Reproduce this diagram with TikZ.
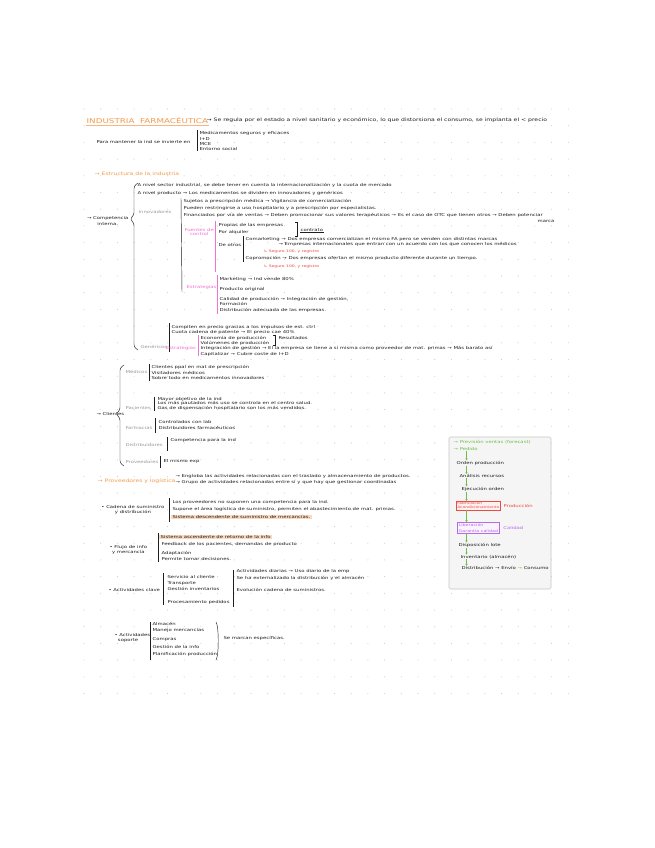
\documentclass[tikz,border=0pt]{standalone}
\usepackage{fontspec}
\setmainfont{DejaVu Sans}
\newfontfamily\hand[FakeStretch=1.33]{DejaVu Sans}
\usetikzlibrary{arrows.meta, positioning}

\definecolor{ink}{HTML}{1E1E1E}
\definecolor{titorange}{HTML}{F2994A}
\definecolor{hlpeach}{HTML}{FCD8BC}
\definecolor{pinkmark}{HTML}{F272CF}
\definecolor{graylbl}{HTML}{9A9A9A}
\definecolor{redmark}{HTML}{EC4A45}
\definecolor{purplemark}{HTML}{B86BE6}
\definecolor{greenmark}{HTML}{6DBE45}
\definecolor{dotgray}{HTML}{CDCDCD}

\begin{document}
\begin{tikzpicture}[
    x=1pt, y=-1pt,
    font=\hand\fontsize{4}{4.8}\selectfont,
    txt/.style={anchor=west, inner sep=0.4pt, text=ink},
    big/.style={txt, font=\hand\fontsize{4.6}{5.4}\selectfont},
    title/.style={anchor=west, inner sep=0.4pt, text=titorange,
      font=\hand\fontsize{6.6}{7}\selectfont},
    head/.style={txt, text=titorange, font=\hand\fontsize{4.6}{5.4}\selectfont},
    lbl/.style={txt, text=graylbl},
    pinklbl/.style={txt, text=pinkmark, align=center},
    redtxt/.style={txt, text=redmark, font=\hand\fontsize{3.4}{4}\selectfont},
    hl/.style={txt, fill=hlpeach, inner xsep=1.5pt},
    brk/.style={draw=ink, line width=0.45pt},
    pinkbrk/.style={draw=pinkmark, line width=0.6pt},
    flowframe/.style={draw=black!22, fill=black!4, rounded corners=1.5pt,
      line width=0.6pt},
    redbox/.style={txt, text=redmark, draw=redmark, fill=redmark!8,
      align=left, inner sep=1pt, line width=0.5pt,
      font=\hand\fontsize{3.3}{4.2}\selectfont},
    purpbox/.style={txt, text=purplemark, draw=purplemark, fill=purplemark!8,
      align=left, inner sep=1.4pt, line width=0.5pt,
      font=\hand\fontsize{3.6}{5.5}\selectfont},
    garr/.style={-{Stealth[length=2pt, width=2.4pt]}, draw=greenmark,
      line width=0.5pt}
  ]
  \fill[white] (0,0) rectangle (655,848);
  \useasboundingbox (0,0) rectangle (655,848);

  % dotted page
  \foreach \i in {0,...,29}
    \foreach \j in {0,...,35}
      \fill[dotgray] (84+\i*16.7, 109+\j*16.7) circle (0.55);

  % title
  \node[title] (tit) at (86,120) {INDUSTRIA\ \ FARMACÉUTICA};
  \draw[titorange!70, line width=1pt] ([yshift=-1.5]tit.south west) -- ([yshift=-1.5]tit.south east);
  \node[big] (reg) at (206,120) {→ Se regula por el estado a nivel sanitario y económico, lo que distorsiona el consumo, se implanta el < precio};

  \node[txt] (inv) at (96,142) {Para mantener la ind se invierte en};
  \node[txt] (inv1) at (199,133) {Medicamentos seguros y eficaces};
  \node[txt] (inv2) at (199,139) {I+D};
  \node[txt] (inv3) at (199,144) {MCE};
  \node[txt] (inv4) at (199,149) {Entorno social};
  \draw[brk] ([xshift=-1.5]inv1.north west) -- ([xshift=-1.5]inv4.south west);

  % estructura
  \node[head] (est) at (94,174) {→ Estructura de la industria};
  \node[txt] (sect) at (137,185) {A nivel sector industrial, se debe tener en cuenta la internacionalización y la cuota de mercado};
  \node[txt] (prod) at (137,193) {A nivel producto → Los medicamentos se dividen en innovadores y genéricos};
  \node[txt, align=center, anchor=east] (comp) at (129,221) {→ Competencia\\[1pt]interna.};
  \draw[brk, rounded corners=2.5pt] (138,183) -- (134,186) -- (134,215) -- (130,219) -- (134,223) -- (134,347) -- (138,350);

  \node[lbl] (innov) at (138,212) {Innovadores};
  \node[txt] (in1) at (183,201) {Sujetos a prescripción médica → Vigilancia de comercialización};
  \node[txt] (in2) at (183,208) {Pueden restringirse a uso hospitalario y a prescripción por especialistas.};
  \node[txt] (in3) at (183,215) {Financiados por vía de ventas → Deben promocionar sus valores terapéuticos → Es el caso de OTC que tienen otros → Deben potenciar};
  \node[txt] (in3b) at (537,221) {marca};
  \draw[brk] (181,198) -- (182,292);

  \node[pinklbl] (fuen) at (184,232) {Fuentes de\\control};
  \draw[pinkbrk] (215,221) -- (215,272);
  \node[txt] (fu1) at (218,225) {Propias de las empresas};
  \node[txt] (fu2) at (218,232) {Por alquiler};
  \draw[brk] (295,222) -- (297,222) -- (297,236) -- (295,236);
  \node[txt] (contr) at (300,230) {contrato};
  \draw[brk] (contr.south west) -- (contr.south east);
  \node[txt] (otros) at (218,245) {De otros};
  \draw[brk] (243,236) -- (243,262);
  \node[txt] (ot1) at (245,239) {Comarketing → Dos empresas comercializan el mismo FA pero se venden con distintas marcas};
  \node[txt] (ot2) at (278,244) {→ Empresas internacionales que entran con un acuerdo con los que conocen los médicos};
  \node[redtxt] (otr1) at (263,252) {↳ Seguro 100, y registro};
  \node[txt] (ot3) at (245,258) {Copromoción → Dos empresas ofertan el mismo producto diferente durante un tiempo.};
  \node[redtxt] (otr2) at (263,267) {↳ Seguro 100, y registro};

  \node[pinklbl] (estr) at (186,287) {Estrategias};
  \draw[pinkbrk] (217,275) -- (217,314);
  \node[txt] (es1) at (219,279) {Marketing → Ind vende 80\%};
  \node[txt] (es2) at (219,289) {Producto original};
  \node[txt] (es3) at (219,299) {Calidad de producción → Integración de gestión,};
  \node[txt] (es4) at (219,304) {Formación};
  \node[txt] (es5) at (219,310) {Distribución adecuada de las empresas.};

  \node[lbl] (gen) at (140,347) {Genéricos};
  \draw[brk] (169,323) -- (169,352);
  \node[txt] (ge1) at (171,327) {Compiten en precio gracias a los impulsos de est. ctrl};
  \node[txt] (ge2) at (171,332) {Cuota cadena de patente → El precio cae 40\%};
  \node[pinklbl, anchor=east] (gestr) at (196.5,348) {Estrategias};
  \draw[pinkbrk] (198,335) -- (198,356);
  \node[txt] (gs1) at (200,338) {Economía de producción};
  \node[txt] (gs2) at (200,343) {Volúmenes de producción};
  \draw[brk] (273,335) -- (275,335) -- (275,345) -- (273,345);
  \node[txt] (gres) at (278,338) {Resultados};
  \node[txt] (gs3) at (200,348) {Integración de gestión → El la empresa se tiene a sí misma como proveedor de mat. primas → Más barato así};
  \node[txt] (gs4) at (200,354) {Capitalizar → Cubre coste de I+D};

  % clientes
  \node[txt] (cli) at (96,414) {→ Clientes};
  \draw[brk, rounded corners=2.5pt] (124,365) -- (120,368) -- (120,410) -- (116,414) -- (120,418) -- (120,463) -- (124,466);

  \node[lbl] (med) at (125,372) {Médicos};
  \draw[brk] (149,364) -- (149,381);
  \node[txt] (me1) at (151,367) {Clientes ppal en mat de prescripción};
  \node[txt] (me2) at (151,373) {Visitadores médicos};
  \node[txt] (me3) at (151,378) {Sobre todo en medicamentos innovadores};

  \node[lbl] (pac) at (125,408) {Pacientes};
  \draw[brk] (154,397) -- (154,411);
  \node[txt] (pa1) at (157,399) {Mayor objetivo de la ind};
  \node[txt] (pa2) at (157,403.5) {Los más pautados más uso se controla en el centro salud.};
  \node[txt] (pa3) at (157,408.5) {Gas de dispensación hospitalario son los más vendidos.};

  \node[lbl] (far) at (125,428) {Farmacias};
  \draw[brk] (155,418) -- (155,433);
  \node[txt] (fa1) at (158,422) {Controlados con lab};
  \node[txt] (fa2) at (158,428) {Distribuidores farmacéuticos};

  \node[lbl] (dis) at (125,445) {Distribuidores};
  \draw[brk] (167,437) -- (167,451);
  \node[txt] (di1) at (170,440) {Competencia para la ind};

  \node[lbl] (prv) at (125,462) {Proveedores};
  \draw[brk] (160,456) -- (160,468);
  \node[txt] (pr1) at (163,461) {El mismo exp};

  % proveedores y logistica
  \node[head] (plog) at (97,481) {→ Proveedores y logística};
  \node[txt] (pl1) at (175,476) {→ Engloba las actividades relacionadas con el traslado y almacenamiento de productos.};
  \node[txt] (pl2) at (175,482) {→ Grupo de actividades relacionadas entre sí y que hay que gestionar coordinadas};

  \node[txt, align=center, anchor=east] (cad) at (165,510) {• Cadena de suministro\\y distribución};
  \draw[brk] (169,498) -- (169,522);
  \node[txt] (ca1) at (172,502) {Los proveedores no suponen una competencia para la ind.};
  \node[txt] (ca2) at (172,509) {Supone el área logística de suministro, permiten el abastecimiento de mat. primas.};
  \node[hl] (ca3) at (171,517) {Sistema descendente de suministro de mercancías.};

  \node[txt, align=center] (flu) at (109,550) {• Flujo de info\\y mercancía};
  \draw[brk] (158,533) -- (158,562);
  \node[hl] (fl0) at (159,537) {Sistema ascendente de retorno de la info};
  \node[txt] (fl1) at (161,544) {Feedback de los pacientes, demandas de producto};
  \node[txt] (fl2) at (161,553) {Adaptación};
  \node[txt] (fl3) at (161,559) {Permite tomar decisiones.};

  \node[txt] (act) at (108,590) {• Actividades clave};
  \draw[brk] (163,573) -- (163,605);
  \node[txt] (ac1) at (167,577) {Servicio al cliente};
  \node[txt] (ac2) at (167,583) {Transporte};
  \node[txt] (ac3) at (167,589) {Gestión inventarios};
  \node[txt] (ac4) at (167,602) {Procesamiento pedidos};
  \draw[brk] (233,570) -- (233,607);
  \node[txt] (ad1) at (236,571) {Actividades diarias → Uso diario de la emp};
  \node[txt] (ad2) at (236,578) {Se ha externalizado la distribución y el almacén};
  \node[txt] (ad3) at (236,590) {Evolución cadena de suministros.};

  \node[txt, align=left] (sop) at (114,638) {• Actividades\\\ \ soporte};
  \draw[brk] (150,622) -- (150,660);
  \node[txt] (so1) at (152,624) {Almacén};
  \node[txt] (so2) at (152,630) {Manejo mercancías};
  \node[txt] (so3) at (152,639) {Compras};
  \node[txt] (so4) at (152,647) {Gestión de la info};
  \node[txt] (so5) at (152,654) {Planificación producción};
  \draw[brk] (216,622) .. controls (219,626) and (219,656) .. (216,660);
  \node[txt] (spec) at (223,638) {Se marcan específicas.};

  % flujo de produccion
  \node[flowframe, minimum width=102pt, minimum height=152pt] (frame) at (500,513) {};
  \coordinate (ax) at (466.5,0);
  \node[txt, text=greenmark] (fc1) at (453,442) {→ Previsión ventas (forecast)};
  \node[txt, text=greenmark] (fc2) at (453,449) {→ Pedido};
  \node[txt] (f1) at (456,463) {Orden producción};
  \node[txt] (f2) at (459,476) {Análisis recursos};
  \node[txt] (f3) at (461,489) {Ejecución orden};
  \node[redbox] (fab) at (456,505.5) {Fabricación\\Acondicionamiento};
  \node[txt, text=redmark, right=2.5pt of fab] (fabl) {Producción};
  \node[purpbox] (lib) at (457,528) {Liberación\\Garantía calidad};
  \node[txt, text=purplemark, right=3pt of lib] (libl) {Calidad};
  \node[txt] (f4) at (458,545) {Disposición lote};
  \node[txt] (f5) at (460,557) {Inventario (almacén)};
  \node[txt] (f6) at (461,568) {Distribución → Envío \textcolor{greenmark}{→} Consumo};

  \draw[garr] (fc2.south -| ax) -- (f1.north -| ax);
  \draw[garr] (f1.south -| ax) -- (f2.north -| ax);
  \draw[garr] (f2.south -| ax) -- (f3.north -| ax);
  \draw[garr] (f3.south -| ax) -- (fab.north -| ax);
  \draw[garr] (fab.south -| ax) -- (lib.north -| ax);
  \draw[garr] (lib.south -| ax) -- (f4.north -| ax);
  \draw[garr] (f4.south -| ax) -- (f5.north -| ax);
  \draw[garr] (f5.south -| ax) -- (f6.north -| ax);
\end{tikzpicture}
\end{document}
